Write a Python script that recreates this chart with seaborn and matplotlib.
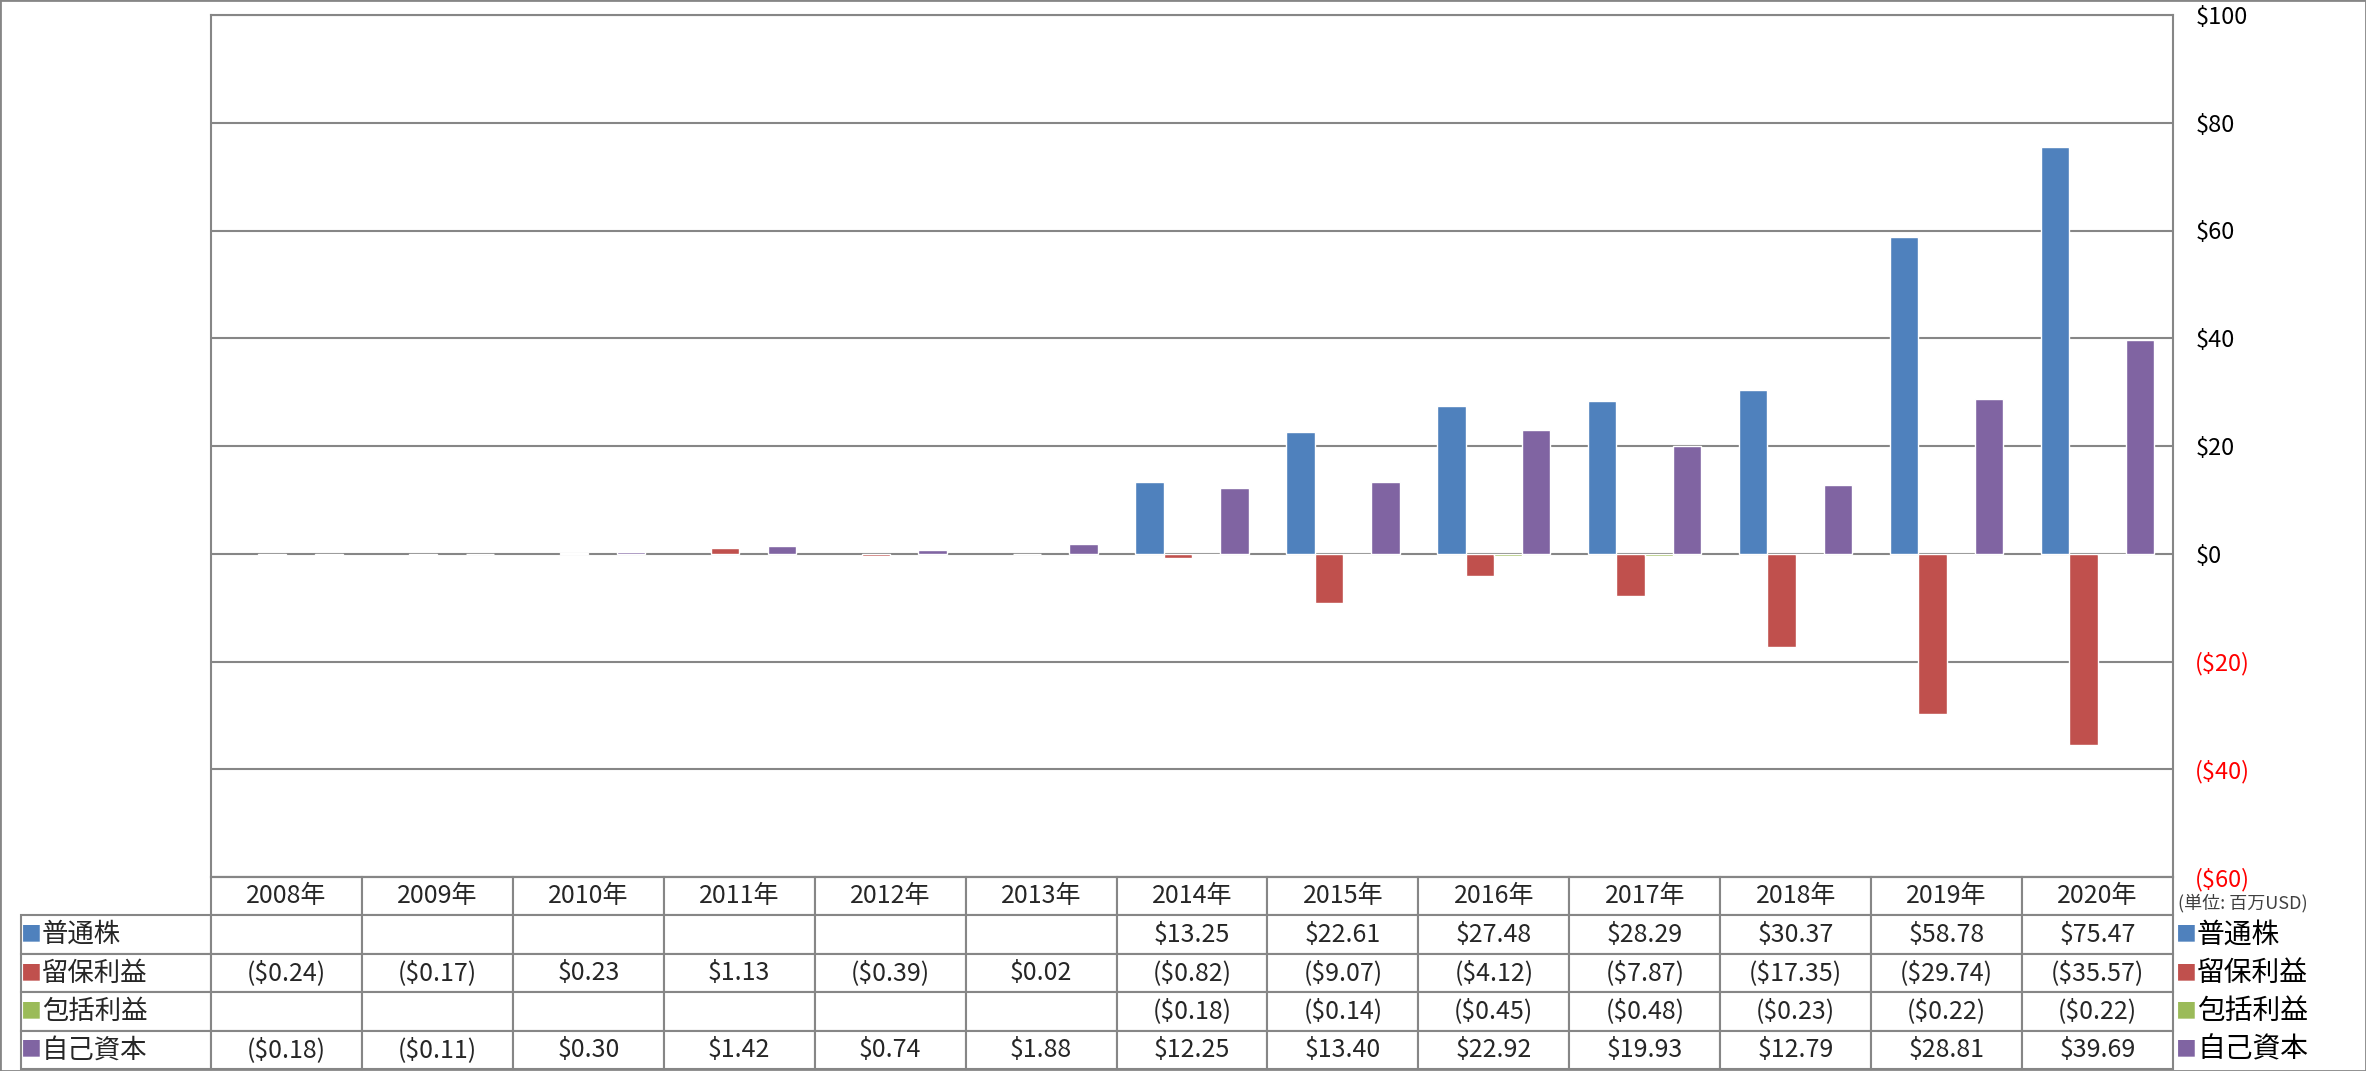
import numpy as np
import pandas as pd
import matplotlib
matplotlib.use("Agg")
import matplotlib.pyplot as plt
import seaborn as sns
from matplotlib.patches import Rectangle
from matplotlib.ticker import FixedLocator, FuncFormatter

# --- data (millions USD) ---
years = ["2008年", "2009年", "2010年", "2011年", "2012年", "2013年", "2014年",
         "2015年", "2016年", "2017年", "2018年", "2019年", "2020年"]
series = ["普通株", "留保利益", "包括利益", "自己資本"]
common_stock = [np.nan, np.nan, np.nan, np.nan, np.nan, np.nan,
                13.25, 22.61, 27.48, 28.29, 30.37, 58.78, 75.47]
retained = [-0.24, -0.17, 0.23, 1.13, -0.39, 0.02,
            -0.82, -9.07, -4.12, -7.87, -17.35, -29.74, -35.57]
comprehensive = [np.nan, np.nan, np.nan, np.nan, np.nan, np.nan,
                 -0.18, -0.14, -0.45, -0.48, -0.23, -0.22, -0.22]
equity = [-0.18, -0.11, 0.30, 1.42, 0.74, 1.88,
          12.25, 13.40, 22.92, 19.93, 12.79, 28.81, 39.69]
y_ticks = [-60, -40, -20, 0, 20, 40, 60, 80, 100]

colors = ["#4F81BD", "#C0504D", "#9BBB59", "#8064A2"]
grid_c = "#868686"

values = [common_stock, retained, comprehensive, equity]
df = pd.DataFrame({
    "year": np.tile(years, len(series)),
    "series": np.repeat(series, len(years)),
    "value": np.concatenate(values),
})


def money(v):
    if v != v:
        return ""
    return f"(${abs(v):.2f})" if v < 0 else f"${v:.2f}"


sns.set_theme(style="white")
plt.rcParams["font.family"] = ["Noto Sans CJK JP", "DejaVu Sans"]

W, H = 2366, 1071
fig = plt.figure(figsize=(W / 100, H / 100), dpi=100)
# plot area in pixels
px_l, px_r, px_t, px_b = 211, 2173, 15, 877
ax = fig.add_axes([px_l / W, (H - px_b) / H, (px_r - px_l) / W, (px_b - px_t) / H])

sns.barplot(data=df, x="year", y="value", hue="series", order=years,
            hue_order=series, palette=colors, saturation=1, width=0.75,
            legend=False, ax=ax, errorbar=None, zorder=3)

ax.set_xlim(-0.5, len(years) - 0.5)
ax.set_ylim(-60, 100)
ax.yaxis.set_major_locator(FixedLocator(y_ticks))
ax.yaxis.set_major_formatter(FuncFormatter(
    lambda v, p: f"(${abs(v):.0f})" if v < 0 else f"${v:.0f}"))
ax.yaxis.tick_right()
ax.tick_params(axis="y", length=0, pad=16, labelsize=17)
for lbl, v in zip(ax.get_yticklabels(), y_ticks):
    lbl.set_color("#FF0000" if v < 0 else "black")
ax.set_xticks([])
ax.set_xlabel("")
ax.set_ylabel("")
ax.grid(axis="y", color=grid_c, linewidth=1.5, zorder=0)
ax.set_axisbelow(True)
for s in ax.spines.values():
    s.set_color(grid_c)
    s.set_linewidth(1.5)

# --- data table under the plot ---
tab_l, tab_b = 21, 1069
ax_w = px_r - px_l
ax_h = px_b - px_t
col_w = 1.0 / len(years)
# bbox covers only the data grid (header + values); row labels sit left of it
bbox = [0, -(tab_b - px_b) / ax_h, 1, (tab_b - px_b) / ax_h]
cell_text = [[money(v) for v in row] for row in values]
tbl = ax.table(cellText=cell_text, colLabels=years,
               colWidths=[col_w] * len(years),
               cellLoc="center", bbox=bbox)
row_cell_h = tbl[1, 0].get_height()
lab_w = (px_l - tab_l) / ax_w
for i, s in enumerate(series):
    lab = tbl.add_cell(i + 1, -1, width=lab_w, height=row_cell_h,
                       text=s, loc="left")
    lab.PAD = 21 / (px_l - tab_l)
tbl.auto_set_font_size(False)
tbl.set_fontsize(18)
for (r, c), cell in tbl.get_celld().items():
    cell.set_edgecolor(grid_c)
    cell.set_linewidth(1.5)
    if c == -1:
        cell.get_text().set_fontsize(19)
    else:
        cell.PAD = 0.02

# legend keys in the table and on the right
n_rows = len(series) + 1
row_h = (tab_b - px_b) / n_rows
for i, (s, col) in enumerate(zip(series, colors)):
    yc = px_b + row_h * (i + 1.5)
    fy = (H - yc) / H
    fig.text(31 / W, fy, "■", color=col, fontsize=15, ha="center", va="center")
    fig.text(2186 / W, fy, "■", color=col, fontsize=15, ha="center", va="center")
    fig.text(2197 / W, fy, s, color="black", fontsize=20, ha="left", va="center")

fig.text(2178 / W, (H - 903) / H, "(単位: 百万USD)", color="#404040",
         fontsize=13, ha="left", va="center")

fig.patches.append(Rectangle((0, 0), 1, 1, transform=fig.transFigure,
                             fill=False, edgecolor=grid_c, linewidth=2))

fig.savefig("out.png", dpi=100)
